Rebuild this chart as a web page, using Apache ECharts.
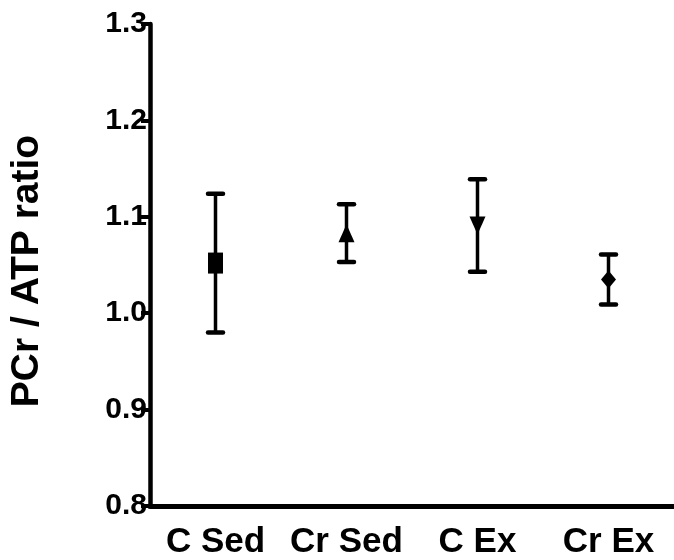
<!DOCTYPE html>
<html>
<head>
<meta charset="utf-8">
<title>PCr / ATP ratio</title>
<script src="https://cdn.jsdelivr.net/npm/echarts@6/dist/echarts.min.js"></script>
<style>
  html, body { margin: 0; padding: 0; background: #fff; }
  #chart { width: 674px; height: 560px; }
</style>
</head>
<body>
<div id="chart"></div>
<script>
// Group labels, group means and their error (± SEM)
const categories = ['C Sed', 'Cr Sed', 'C Ex', 'Cr Ex'];
const means = [1.052, 1.083, 1.091, 1.035];
const errors = [0.072, 0.030, 0.048, 0.026];
const yTicks = [0.8, 0.9, 1.0, 1.1, 1.2, 1.3];

// One marker shape per group
const markerShapes = [
  { symbol: 'rect', size: [15, 21], rotate: 0 },
  { symbol: 'triangle', size: [16, 18], rotate: 0 },
  { symbol: 'triangle', size: [16, 18], rotate: 180 },
  { symbol: 'diamond', size: [15, 18], rotate: 0 }
];

const FONT = "'Liberation Sans', Arial, sans-serif";

const errorData = categories.map((c, i) => [i, means[i] - errors[i], means[i] + errors[i]]);

const pointData = categories.map((c, i) => ({
  value: [i, means[i]],
  symbol: markerShapes[i].symbol,
  symbolSize: markerShapes[i].size,
  symbolRotate: markerShapes[i].rotate
}));

const chart = echarts.init(document.getElementById('chart'), null, { renderer: 'canvas' });

chart.setOption({
  animation: false,
  backgroundColor: '#ffffff',
  grid: { left: 149, top: 24, width: 531, bottom: 51, containLabel: false },
  xAxis: {
    type: 'category',
    data: categories,
    boundaryGap: true,
    axisLine: { lineStyle: { color: '#000', width: 5 } },
    axisTick: { alignWithLabel: true, length: 12, lineStyle: { color: '#000', width: 4.5 } },
    axisLabel: {
      color: '#000', fontFamily: FONT, fontWeight: 'bold', fontSize: 35,
      margin: 19, interval: 0
    },
    splitLine: { show: false }
  },
  yAxis: {
    type: 'value',
    min: 0.8,
    max: 1.3,
    interval: 0.1,
    name: 'PCr / ATP ratio',
    nameLocation: 'middle',
    nameRotate: 90,
    nameGap: 103,
    nameTextStyle: {
      color: '#000', fontFamily: FONT, fontWeight: 'bold', fontSize: 39,
      padding: [0, 12, 0, 0]
    },
    axisLine: { show: true, lineStyle: { color: '#000', width: 4.5 } },
    axisTick: { show: true, length: 9, lineStyle: { color: '#000', width: 4 } },
    axisLabel: {
      color: '#000', fontFamily: FONT, fontWeight: 'bold', fontSize: 30, margin: 3,
      formatter: v => {
        const t = yTicks.find(k => Math.abs(k - v) < 1e-9);
        return t === undefined ? '' : t.toFixed(1);
      }
    },
    splitLine: { show: false }
  },
  series: [
    {
      type: 'custom',
      name: 'error',
      data: errorData,
      z: 2,
      renderItem: function (params, api) {
        const x = api.value(0);
        const lo = api.coord([x, api.value(1)]);
        const hi = api.coord([x, api.value(2)]);
        const capHalf = 7.5;
        const style = { stroke: '#000', lineWidth: 4.5, lineCap: 'round' };
        return {
          type: 'group',
          children: [
            { type: 'line', shape: { x1: hi[0], y1: hi[1], x2: lo[0], y2: lo[1] },
              style: { stroke: '#000', lineWidth: 3.5 } },
            { type: 'line', shape: { x1: hi[0] - capHalf, y1: hi[1], x2: hi[0] + capHalf, y2: hi[1] }, style: style },
            { type: 'line', shape: { x1: lo[0] - capHalf, y1: lo[1], x2: lo[0] + capHalf, y2: lo[1] }, style: style }
          ]
        };
      }
    },
    {
      type: 'scatter',
      name: 'mean',
      data: pointData,
      z: 3,
      itemStyle: { color: '#000', opacity: 1 }
    }
  ]
});
</script>
</body>
</html>
